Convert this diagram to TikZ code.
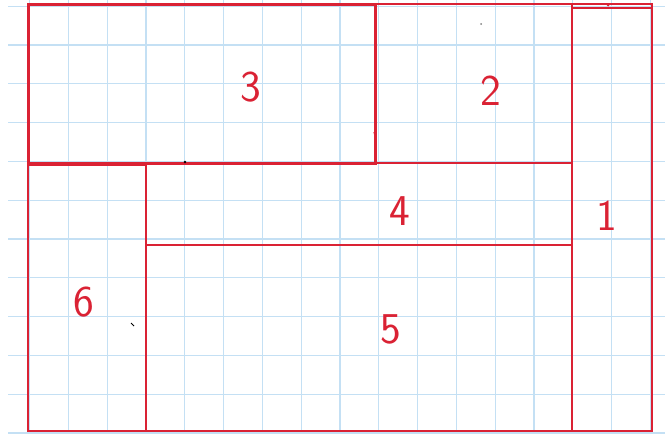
\documentclass[tikz,border=0pt]{standalone}
\definecolor{gridblue}{RGB}{196,224,244}
\definecolor{penred}{RGB}{218,34,52}
\begin{document}
\begin{tikzpicture}[x=1pt,y=-1pt,
  box/.style={draw=penred,line width=2.4pt},
  thickbox/.style={draw=penred,line width=3pt},
  digit/.style={text=penred,font=\fontsize{44}{44}\selectfont\sffamily,inner sep=0pt}]
\useasboundingbox (0,0) rectangle (665,434);
\fill[white] (0,0) rectangle (665,434);
% grid
\foreach \k in {0,...,16} {\draw[gridblue,line width=1.1pt] ({29.6+38.8*\k},0) -- ({29.6+38.8*\k},434);}
\foreach \k in {0,...,11} {\draw[gridblue,line width=1.1pt] (8,{6.2+38.8*\k}) -- (665,{6.2+38.8*\k});}
% rectangles
\draw[box] (28,4) rectangle (652,431);          % outer
\draw[box] (572,8) rectangle (652,431);         % 1
\draw[box] (375,4) rectangle (572,163);         % 2
\draw[thickbox] (28,4) rectangle (375,163);     % 3
\draw[box] (146,163) rectangle (572,245);       % 4
\draw[box] (146,245) rectangle (572,431);       % 5
\draw[draw=penred,line width=1.6pt] (28,165.5) rectangle (146,431); % 6
% small marks
\fill[black] (185,162) circle (1.3pt);
\fill[gray] (481,24) circle (1pt);
\draw[black,line width=1pt] (131,323) -- (134,326);
\draw[penred,line width=1.2pt] (374,132) -- (376,140);
\fill[penred] (608,5) circle (1.5pt);
% labels
\node[digit] (n1) at (607,216) {1};
\node[digit] (n2) at (491,91) {2};
\node[digit] (n3) at (251,87) {3};
\node[digit] (n4) at (400,211) {4};
\node[digit] (n5) at (391,329) {5};
\node[digit] (n6) at (84,302) {6};
\end{tikzpicture}
\end{document}
